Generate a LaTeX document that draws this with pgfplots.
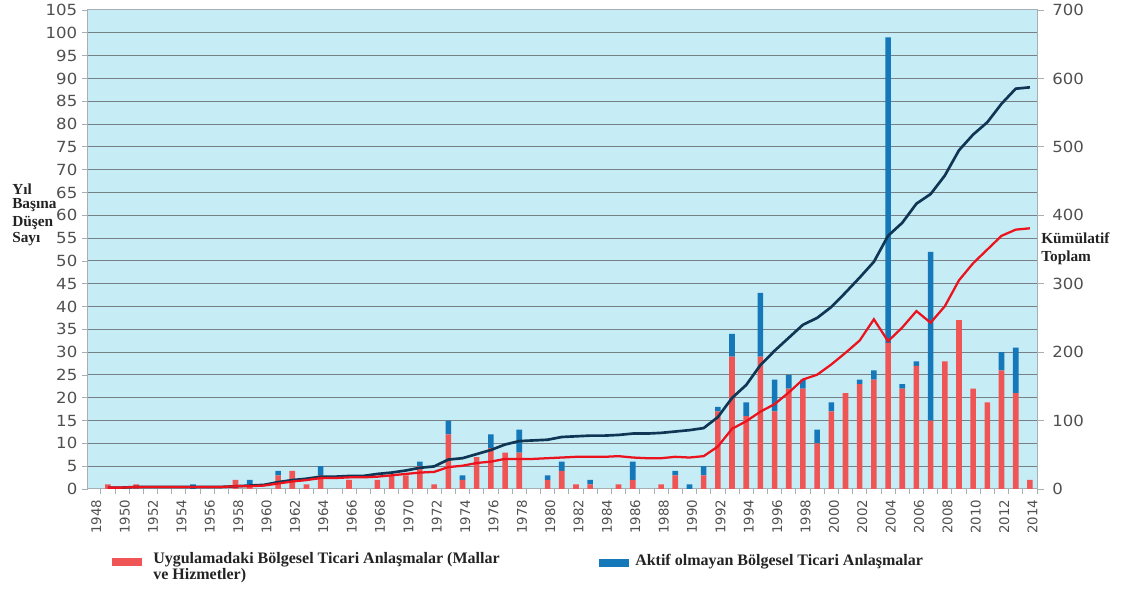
\documentclass[border=0pt]{standalone}
\usepackage{fontspec}
\setmainfont{Liberation Serif}
\newfontfamily\tickfont[FakeStretch=1.08]{DejaVu Sans}
\newfontfamily\xtickfont{DejaVu Sans}
\usepackage{pgfplots}
\usepackage{pgfplotstable}
\pgfplotsset{compat=1.18}

\definecolor{bgcyan}{RGB}{198,236,245}
\definecolor{gridgray}{RGB}{118,128,133}
\definecolor{framegray}{RGB}{165,175,180}
\definecolor{tickgray}{RGB}{80,80,80}
\definecolor{labeltext}{RGB}{35,35,35}
\definecolor{redbar}{RGB}{240,85,85}
\definecolor{bluebar}{RGB}{20,120,185}
\definecolor{darkline}{RGB}{15,55,85}
\definecolor{redline}{RGB}{235,20,30}

% yearly counts: in force (red) and inactive (blue)
\pgfplotstableread{
year inforce inactive
1948 0 0
1949 1 0
1950 0 0
1951 1 0
1952 0 0
1953 0 0
1954 0 0
1955 0 1
1956 0 0
1957 0 0
1958 2 0
1959 1 1
1960 0 0
1961 3 1
1962 4 0
1963 1 0
1964 3 2
1965 0 0
1966 2 0
1967 0 0
1968 2 0
1969 3 0
1970 3 0
1971 5 1
1972 1 0
1973 12 3
1974 2 1
1975 7 0
1976 9 3
1977 8 0
1978 8 5
1979 0 0
1980 2 1
1981 4 2
1982 1 0
1983 1 1
1984 0 0
1985 1 0
1986 2 4
1987 0 0
1988 1 0
1989 3 1
1990 0 1
1991 3 2
1992 17 1
1993 29 5
1994 16 3
1995 29 14
1996 17 7
1997 22 3
1998 22 2
1999 10 3
2000 17 2
2001 21 0
2002 23 1
2003 24 2
2004 32 67
2005 22 1
2006 27 1
2007 15 37
2008 28 0
2009 37 0
2010 22 0
2011 19 0
2012 26 4
2013 21 10
2014 2 0
}\bars

% cumulative totals (right axis)
\pgfplotstableread{
year total inforce
1949 2 2
1950 2 2
1951 3 3
1952 3 3
1953 3 3
1954 3 3
1955 3 3
1956 3 3
1957 3 3
1958 4 4
1959 5 4
1960 6 5
1961 10 8
1962 13 11
1963 15 13
1964 18 16
1965 18 16
1966 19 17
1967 19 17
1968 22 18
1969 24 20
1970 27 22
1971 31 24
1972 33 25
1973 43 32
1974 45 34
1975 51 38
1976 57 40
1977 65 44
1978 70 44
1979 71 44
1980 72 45
1981 76 46
1982 77 47
1983 78 47
1984 78 47
1985 79 48
1986 81 46
1987 81 45
1988 82 45
1989 84 47
1990 86 46
1991 89 48
1992 105 62
1993 133 88
1994 152 99
1995 181 113
1996 202 124
1997 221 141
1998 240 160
1999 250 167
2000 266 182
2001 287 199
2002 309 217
2003 332 248
2004 370 216
2005 389 236
2006 417 260
2007 431 243
2008 458 267
2009 495 305
2010 518 330
2011 536 350
2012 563 370
2013 585 379
2014 587 381
}\cumul

\begin{document}
\begin{tikzpicture}
\begin{axis}[
  at={(0,0)}, anchor=south west,
  scale only axis, width=711.75pt, height=359.25pt,
  xmin=1947.6, xmax=2014.5, ymin=0, ymax=105,
  ybar stacked, bar width=4.2pt,
  axis background/.style={fill=bgcyan},
  axis line style={framegray, line width=0.75pt},
  ymajorgrids, y grid style={gridgray, line width=0.75pt},
  ytick={0,5,...,105},
  xtick={1948,1950,...,2014},
  minor xtick={1947.5,1948.5,...,2014.5},
  tick align=outside, tick pos=left,
  major tick length=4.5pt, minor tick length=4pt,
  major x tick style={draw=none},
  minor x tick style={framegray, line width=0.6pt},
  ytick style={framegray, line width=0.6pt},
  /pgf/number format/1000 sep={},
  /pgf/number format/assume math mode=true,
  y tick label style={font=\fontsize{11.5}{13}\tickfont, text=tickgray},
  x tick label style={font=\fontsize{10}{11}\xtickfont, text=tickgray,
    rotate=90, anchor=east, yshift=-2pt},
]
\addplot[fill=redbar, draw=none] table[x=year, y=inforce]{\bars};
\addplot[fill=bluebar, draw=none] table[x=year, y=inactive]{\bars};
\end{axis}
\begin{axis}[
  at={(0,0)}, anchor=south west,
  scale only axis, width=711.75pt, height=359.25pt,
  xmin=1947.6, xmax=2014.5, ymin=0, ymax=700,
  axis x line=none, axis y line*=right,
  axis line style={framegray, line width=0.75pt},
  ytick={0,100,...,700},
  tick align=outside, major tick length=5pt,
  ytick style={framegray, line width=0.6pt},
  /pgf/number format/assume math mode=true,
  y tick label style={font=\fontsize{11.5}{13}\tickfont, text=tickgray, xshift=3pt},
]
\addplot[darkline, line width=2pt, no marks] table[x=year, y=total]{\cumul};
\addplot[redline, line width=1.7pt, no marks] table[x=year, y=inforce]{\cumul};
\end{axis}

% axis titles
\begin{scope}[every node/.style={anchor=base west, inner sep=0pt, text=labeltext,
    font=\bfseries\fontsize{11.5}{12}\selectfont}]
\node at (-57pt,220.5pt) {Yıl};
\node at (-57pt,210pt) {Başına};
\node at (-57pt,196.5pt) {Düşen};
\node at (-57pt,184.5pt) {Sayı};
\node at (714.75pt,183.75pt) {Kümülatif};
\node at (714.75pt,170.25pt) {Toplam};
\end{scope}

% legend
\fill[redbar] (18pt,-57.75pt) rectangle (40.5pt,-51.75pt);
\fill[bluebar] (383.25pt,-58.5pt) rectangle (405.75pt,-52.5pt);
\begin{scope}[every node/.style={anchor=base west, inner sep=0pt, text=labeltext,
    font=\bfseries\fontsize{12}{12}\selectfont}]
\node at (48.75pt,-56.25pt) {Uygulamadaki Bölgesel Ticari Anlaşmalar (Mallar};
\node at (48.75pt,-68.25pt) {ve Hizmetler)};
\node at (410.25pt,-57.75pt) {Aktif olmayan Bölgesel Ticari Anlaşmalar};
\end{scope}

\pgfresetboundingbox
\path (-66pt,-75pt) rectangle (775.5pt,366.75pt);
\end{tikzpicture}
\end{document}
